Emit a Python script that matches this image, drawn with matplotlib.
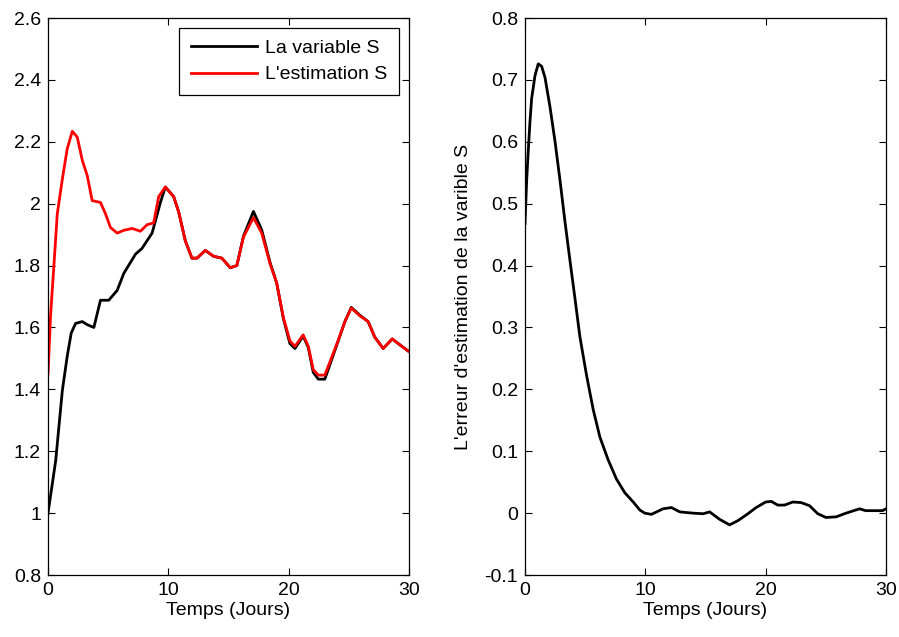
import numpy as np
import matplotlib.pyplot as plt

plt.rcParams['font.family'] = ['Liberation Sans', 'DejaVu Sans']

# S (black) and its estimate (red)
t_s = [0, 0.64, 1.19, 1.6, 1.93, 2.29, 2.85, 3.26, 3.81, 4.36, 5.05, 5.75, 6.3,
       7.27, 7.8, 8.65, 9.34, 9.75, 10.44, 10.86, 11.41, 11.96, 12.38, 13.07,
       13.76, 14.45, 15.14, 15.69, 16.24, 17.07, 17.76, 18.45, 19.0, 19.56,
       20.1, 20.52, 21.2, 21.63, 22.04, 22.46, 23.0, 23.56, 24.1, 24.67, 25.2,
       25.9, 26.6, 27.15, 27.85, 28.6, 29.2, 30]
s_var = [1.0, 1.17, 1.396, 1.508, 1.582, 1.613, 1.619, 1.609, 1.60, 1.688, 1.688,
         1.72, 1.775, 1.837, 1.855, 1.905, 2.004, 2.054, 2.023, 1.973, 1.88,
         1.824, 1.824, 1.849, 1.830, 1.824, 1.793, 1.80, 1.895, 1.975, 1.915,
         1.81, 1.744, 1.628, 1.548, 1.532, 1.572, 1.535, 1.455, 1.433, 1.433,
         1.495, 1.555, 1.619, 1.665, 1.640, 1.619, 1.569, 1.532, 1.563, 1.545,
         1.522]

t_est = [0, 0.22, 0.5, 0.77, 1.19, 1.6, 2.02, 2.43, 2.85, 3.26, 3.67, 4.36, 4.78,
         5.19, 5.75, 6.3, 6.99, 7.68, 8.23, 8.78, 9.2, 9.75, 10.44, 10.86, 11.41,
         11.96, 12.38, 13.07, 13.76, 14.45, 15.14, 15.69, 16.24, 17.07, 17.76,
         18.45, 19.0, 19.56, 20.1, 20.52, 21.2, 21.63, 22.04, 22.46, 23.0, 23.56,
         24.1, 24.67, 25.2, 25.9, 26.6, 27.15, 27.85, 28.6, 29.2, 30]
s_est = [1.45, 1.644, 1.806, 1.967, 2.079, 2.178, 2.234, 2.215, 2.14, 2.091, 2.01,
         2.004, 1.967, 1.923, 1.905, 1.914, 1.92, 1.911, 1.932, 1.938, 2.023,
         2.054, 2.023, 1.973, 1.88, 1.824, 1.824, 1.849, 1.830, 1.824, 1.793,
         1.80, 1.892, 1.955, 1.905, 1.806, 1.744, 1.632, 1.557, 1.539, 1.576,
         1.539, 1.464, 1.446, 1.446, 1.502, 1.557, 1.619, 1.663, 1.638, 1.619,
         1.569, 1.532, 1.563, 1.545, 1.522]

# estimation error
t_err = [0, 0.14, 0.28, 0.41, 0.55, 0.83, 1.1, 1.38, 1.66, 2.07, 2.49, 2.9, 3.32,
         3.73, 4.15, 4.56, 5.11, 5.67, 6.22, 6.91, 7.6, 8.29, 8.99, 9.54, 9.95,
         10.5, 11.47, 12.17, 12.86, 13.96, 14.8, 15.34, 16.17, 17.0, 17.7, 18.52,
         19.2, 20.0, 20.46, 21.0, 21.56, 22.26, 22.95, 23.64, 24.33, 25.0, 25.85,
         26.68, 27.8, 28.3, 29.7, 30]
err = [0.468, 0.539, 0.589, 0.632, 0.670, 0.707, 0.726, 0.722, 0.704, 0.657, 0.601,
       0.539, 0.471, 0.409, 0.347, 0.285, 0.223, 0.167, 0.123, 0.086, 0.055,
       0.033, 0.018, 0.005, 0.0, -0.002, 0.007, 0.009, 0.002, 0.0, -0.001, 0.002,
       -0.010, -0.019, -0.012, -0.001, 0.009, 0.018, 0.019, 0.013, 0.013, 0.018,
       0.017, 0.012, -0.001, -0.007, -0.006, 0.0, 0.007, 0.004, 0.004, 0.007]

fs = 14

fig = plt.figure(figsize=(8.99, 6.37), dpi=100)
ax1 = fig.add_axes([0.0534, 0.0973, 0.4016, 0.8744])
ax2 = fig.add_axes([0.584, 0.0973, 0.4016, 0.8744])

ax1.plot(t_s, s_var, color='black', lw=2, label='La variable S')
ax1.plot(t_est, s_est, color='red', lw=2, label="L'estimation S")
ax1.set_xlim(0, 30)
ax1.set_ylim(0.8, 2.6)
ax1.set_yticks(np.arange(0.8, 2.61, 0.2))
ax1.set_yticklabels(['0.8', '1', '1.2', '1.4', '1.6', '1.8', '2', '2.2', '2.4', '2.6'])
ax1.set_xlabel('Temps (Jours)', fontsize=fs, labelpad=2)
leg = ax1.legend(loc='upper right', fontsize=fs, fancybox=False, framealpha=1,
                 edgecolor='black', handlelength=3.4, handletextpad=0.45,
                 labelspacing=0.45, borderpad=0.6, borderaxespad=0.5)
leg.get_frame().set_linewidth(0.9)

ax2.plot(t_err, err, color='black', lw=2)
ax2.set_xlim(0, 30)
ax2.set_ylim(-0.1, 0.8)
ax2.set_yticks(np.arange(-0.1, 0.81, 0.1))
ax2.set_yticklabels(['-0.1', '0', '0.1', '0.2', '0.3', '0.4', '0.5', '0.6', '0.7', '0.8'])
ax2.set_xlabel('Temps (Jours)', fontsize=fs, labelpad=2)
ax2.set_ylabel("L'erreur d'estimation de la varible S", fontsize=fs, labelpad=9)

for ax in (ax1, ax2):
    ax.set_xticks([0, 10, 20, 30])
    ax.tick_params(direction='in', top=True, right=True, labelsize=fs, length=5, pad=5)
    for sp in ax.spines.values():
        sp.set_linewidth(0.9)

fig.savefig('out.png', dpi=100)
